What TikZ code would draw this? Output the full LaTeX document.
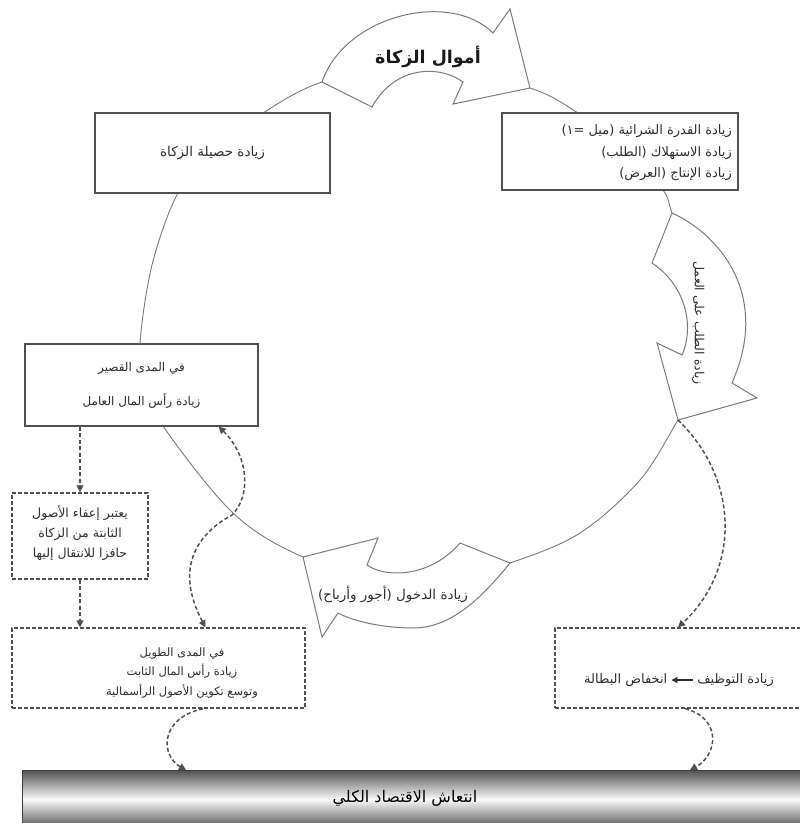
\documentclass[tikz,border=0pt]{standalone}
\usepackage{fontspec}
\usetikzlibrary{arrows.meta}
\TeXXeTstate=1
\newfontfamily\arabicfont[Script=Arabic]{DejaVu Sans}
\newcommand\artxt[1]{{\arabicfont\beginR #1\endR}}
\definecolor{lc}{HTML}{7A7A7A}
\definecolor{bc}{HTML}{505050}
\definecolor{tc}{HTML}{2E2E2E}
\begin{document}
\begin{tikzpicture}[x=1pt,y=-1pt,
  circ/.style={draw=lc, line width=0.9pt},
  carrow/.style={draw=lc, line width=1pt, fill=white, line join=miter},
  sbox/.style={draw=bc, line width=1.2pt, fill=white, inner sep=0pt},
  dbox/.style={draw=bc, line width=1.4pt, dash pattern=on 4pt off 2pt, fill=white, inner sep=0pt},
  darr/.style={draw=bc, line width=1.5pt, dash pattern=on 4pt off 2.5pt, -{Triangle[length=7pt,width=7pt]}},
  txt/.style={text=tc, font=\fontsize{11}{20}\selectfont, align=center, inner sep=1pt},
]
\useasboundingbox (0,0) rectangle (800,823);

% main cycle
\draw[circ] plot[smooth cycle, tension=0.55] coordinates {(322,82) (420,60) (530,88) (578,113) (628,148) (663,190) (672,213) (700,300) (694,392) (678,420) (640,480) (580,533) (510,563) (410,592) (303,557) (233,513) (163,426) (145,385) (140,344) (152,265) (178,193) (215,150) (263,113)};

\coordinate (rtip) at (678,420);

% top arrow
\draw[carrow] (322,82) .. controls (345,15) and (450,-10) .. (493,33) -- (510,9) -- (530,88) -- (453,104) -- (463,82)
  .. controls (440,65) and (395,65) .. (372,107) -- cycle;
\node[txt, font=\bfseries\fontsize{17.5}{20}\selectfont, text=black!90] (ta) at (428,57) {\artxt{أموال الزكاة}};

% right arrow
\draw[carrow] (672,213) .. controls (705,228) and (740,262) .. (745,310) .. controls (748,335) and (742,360) .. (732,383)
  -- (757,398) -- (rtip) -- (657,343) -- (682,355) .. controls (695,325) and (685,285) .. (652,263) -- cycle;
\node[txt, rotate=-90, font=\fontsize{12.5}{20}\selectfont] (ra) at (698,323) {\artxt{زيادة الطلب على العمل}};

% bottom arrow
\draw[carrow] (510,563) .. controls (480,600) and (450,628) .. (413,628) .. controls (385,628) and (355,622) .. (338,613)
  -- (322,637) -- (303,557) -- (378,538) -- (367,565) .. controls (385,578) and (430,578) .. (460,543) -- cycle;
\node[txt, font=\fontsize{13.5}{20}\selectfont] (ba) at (393,594) {\artxt{زيادة الدخول (أجور وأرباح)}};

% boxes
\node[sbox, txt, font=\fontsize{13.5}{20}\selectfont, minimum width=235pt, minimum height=80pt] (tl) at (212.5,153) {\artxt{زيادة حصيلة الزكاة}};
\node[sbox, minimum width=236pt, minimum height=77pt] (tr) at (620,151.5) {};
\node[txt, align=right, anchor=east, font=\fontsize{13}{21.5}\selectfont] (trt) at (733,153)
  {\artxt{زيادة القدرة الشرائية (ميل^^^^00a0=١)}\\\artxt{زيادة الاستهلاك (الطلب)}\\\artxt{زيادة الإنتاج (العرض)}};
\node[sbox, txt, font=\fontsize{12}{20}\selectfont, minimum width=233pt, minimum height=82pt] (sb) at (141.5,385)
  {\artxt{في المدى القصير}\\[14pt]\artxt{زيادة رأس المال العامل}};
\node[dbox, minimum width=136pt, minimum height=86pt] (d1) at (80,536) {};
\node[txt, font=\fontsize{12.5}{20}\selectfont] (d1t) at (80,533)
  {\artxt{يعتبر إعفاء الأصول}\\\artxt{الثابتة من الزكاة}\\\artxt{حافزا للانتقال إليها}};
\node[dbox, minimum width=293pt, minimum height=80pt] (lg) at (158.5,668) {};
\node[txt, font=\fontsize{11.5}{19.5}\selectfont] (lgt) at (182,673)
  {\artxt{في المدى الطويل}\\\artxt{زيادة رأس المال الثابت}\\\artxt{وتوسع تكوين الأصول الرأسمالية}};
\node[dbox, minimum width=257pt, minimum height=80pt] (rb) at (683.5,668) {};
\node[txt, font=\fontsize{13}{20}\selectfont, anchor=east] (rb1) at (775,680) {\artxt{زيادة التوظيف}};
\node[txt, font=\fontsize{13}{20}\selectfont, anchor=west] (rb2) at (583,680) {\artxt{انخفاض البطالة}};
\draw[draw=tc, line width=1.4pt, -{Triangle[length=6pt,width=6pt]}] ([xshift=-3pt]rb1.west) -- ([xshift=3pt]rb2.east);

% bar
\node[draw=black!75, line width=0.6pt, top color=black!68, bottom color=black!68, middle color=black!2,
  minimum width=790pt, minimum height=58pt, anchor=north west, inner sep=0pt] (bar) at (22,770) {};
\node[txt, font=\fontsize{16}{20}\selectfont, text=black] (bart) at (405,798) {\artxt{انتعاش الاقتصاد الكلي}};

% dashed connectors
\draw[darr] (sb.south -| d1.north) -- (d1.north);
\draw[darr] (d1.south) -- (lg.north -| d1.south);
\draw[darr, {Triangle[length=7pt,width=7pt]}-{Triangle[length=7pt,width=7pt]}]
  ([xshift=-40pt]sb.south east) .. controls (248,455) and (252,495) .. (232,515)
  .. controls (195,535) and (175,570) .. ([xshift=47pt]lg.north);
\draw[darr] (rtip) .. controls (740,480) and (740,570) .. (rtip |- rb.north);
\draw[darr] ([xshift=44.5pt]lg.south) .. controls (160,718) and (160,755) .. ([xshift=164pt]bar.north west);
\draw[darr] ([xshift=1.5pt]rb.south) .. controls (722,718) and (718,755) .. ([xshift=668pt]bar.north west);
\end{tikzpicture}
\end{document}
